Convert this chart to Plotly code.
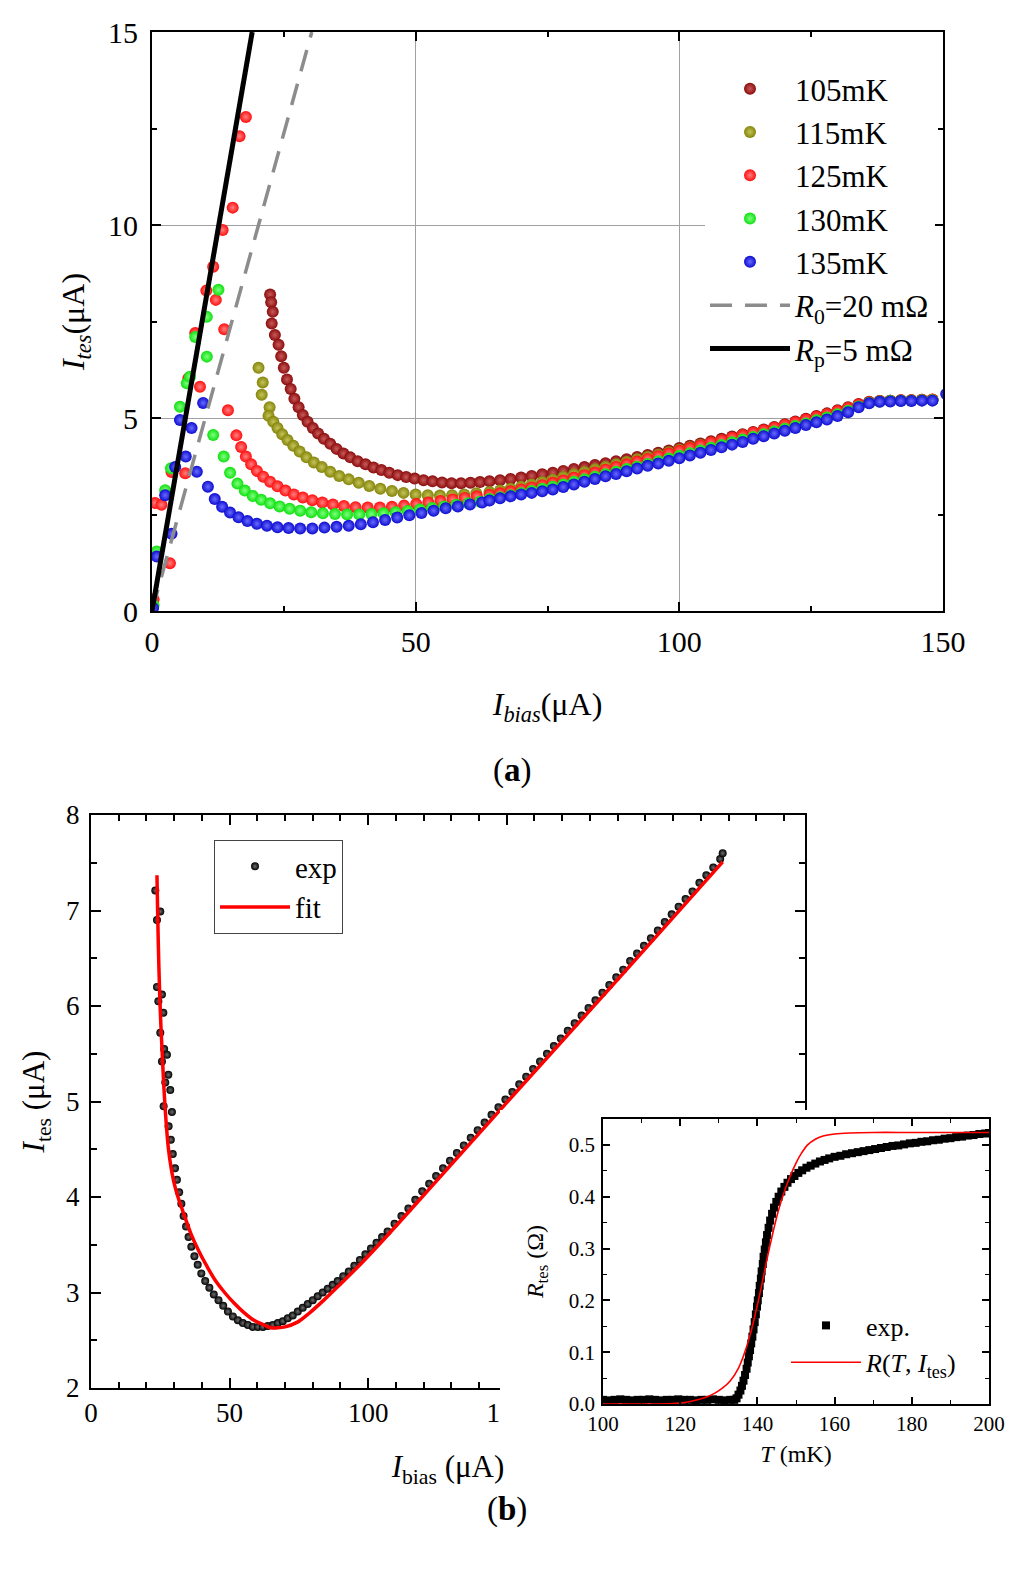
import plotly.graph_objects as go

SERIF = 'Liberation Serif'

# ---------------- (a) I_tes vs I_bias at several bath temperatures ----------------
temps = ['105mK', '115mK', '125mK', '130mK', '135mK']
colors = ['#8b0c0c', '#84840a', '#ff0e0e', '#0ee00e', '#0c0cd0']
glow = ['#c85a5a', '#c4c45a', '#ff8080', '#80ff80', '#6a6aff']

# shared bias grid of the normal-ish branch (uA)
ib_norm = [64, 66, 68, 70, 72, 74, 76, 78, 80, 82, 84, 86, 88, 90, 92, 94, 96, 98, 100, 102,
           104, 106, 108, 110, 112, 114, 116, 118, 120, 122, 124, 126, 128, 130, 132, 134, 136,
           138, 140, 142, 144, 146, 148]

# 105 mK
ib_105_sc, it_105_sc = [], []
ib_105 = [22.4, 22.6, 22.9, 22.7, 23.3, 24.0, 24.5, 25.0, 25.6, 26.3, 27.0, 27.8, 28.6, 29.5, 30.5,
          31.5, 32.6, 33.8, 35.0, 36.3, 37.6, 39.0, 40.5, 42.0, 43.5, 45.0, 46.6, 48.2, 49.8, 51.5,
          53.2, 55.0, 56.8, 58.6, 60.4, 62.2]
it_105 = [8.2, 8.0, 7.75, 7.45, 7.15, 6.9, 6.6, 6.3, 6.0, 5.75, 5.5, 5.28, 5.08, 4.9, 4.74,
          4.6, 4.46, 4.33, 4.2, 4.08, 3.98, 3.88, 3.8, 3.72, 3.65, 3.58, 3.52, 3.47, 3.43, 3.39,
          3.36, 3.33, 3.31, 3.31, 3.32, 3.34]
it_105_n = [3.36, 3.39, 3.42, 3.46, 3.50, 3.54, 3.58, 3.63, 3.68, 3.73, 3.78, 3.83, 3.88, 3.93, 3.99,
            4.04, 4.10, 4.16, 4.22, 4.28, 4.34, 4.40, 4.46, 4.52, 4.58, 4.64, 4.70, 4.77, 4.84, 4.91,
            4.98, 5.05, 5.12, 5.20, 5.28, 5.36, 5.42, 5.44, 5.45, 5.46, 5.46, 5.47, 5.47]

# 115 mK
ib_115_sc, it_115_sc = [], []
ib_115 = [20.2, 21.0, 20.8, 22.3, 22.1, 23.0, 23.8, 24.7, 25.7, 26.8, 28.0, 29.3, 30.7, 32.2, 33.8,
          35.5, 37.3, 39.2, 41.2, 43.3, 45.5, 47.7, 50.0, 52.3, 54.6, 56.9, 59.2, 61.5]
it_115 = [6.3, 5.92, 5.6, 5.28, 5.06, 4.9, 4.74, 4.58, 4.43, 4.28, 4.13, 3.98, 3.85, 3.73, 3.61,
          3.5, 3.41, 3.32, 3.24, 3.17, 3.11, 3.06, 3.02, 3.0, 2.99, 3.0, 3.02, 3.05]
it_115_n = [3.08, 3.12, 3.17, 3.22, 3.28, 3.34, 3.40, 3.47, 3.54, 3.60, 3.67, 3.73, 3.80, 3.86, 3.93,
            3.99, 4.05, 4.11, 4.18, 4.24, 4.30, 4.36, 4.42, 4.48, 4.55, 4.61, 4.67, 4.74, 4.81, 4.88,
            4.95, 5.02, 5.09, 5.17, 5.25, 5.34, 5.41, 5.44, 5.45, 5.45, 5.46, 5.46, 5.47]

# 125 mK
ib_125_sc = [0.3, 0.6, 1.8, 3.4, 3.7, 6.3, 6.9, 8.2, 9.1, 10.3, 11.6, 12.1, 13.4, 15.3, 16.6, 17.8]
it_125_sc = [0.3, 2.8, 2.75, 1.24, 3.6, 3.57, 6.03, 7.2, 5.81, 8.3, 8.92, 8.06, 9.87, 10.45, 12.3, 12.8]
ib_125 = [13.7, 14.4, 16.0, 16.9, 17.8, 18.8, 19.9, 21.1, 22.4, 23.8, 25.3, 26.9, 28.6, 30.4, 32.3,
          34.3, 36.4, 38.6, 40.9, 43.2, 45.5, 47.8, 50.1, 52.4, 54.7, 57.0, 59.3, 61.6]
it_125 = [7.3, 5.2, 4.55, 4.25, 4.0, 3.8, 3.63, 3.48, 3.35, 3.23, 3.12, 3.02, 2.94, 2.87, 2.81,
          2.76, 2.72, 2.69, 2.68, 2.68, 2.7, 2.73, 2.77, 2.81, 2.85, 2.89, 2.93, 2.97]
it_125_n = [3.01, 3.05, 3.10, 3.15, 3.20, 3.26, 3.32, 3.38, 3.45, 3.52, 3.59, 3.66, 3.73, 3.80, 3.87,
            3.94, 4.01, 4.08, 4.15, 4.22, 4.29, 4.36, 4.42, 4.49, 4.55, 4.62, 4.68, 4.75, 4.82, 4.89,
            4.96, 5.03, 5.10, 5.18, 5.26, 5.35, 5.41, 5.44, 5.45, 5.46, 5.46, 5.47, 5.48]

# 130 mK
ib_130_sc = [0.3, 0.9, 2.5, 3.6, 5.3, 6.6, 7.2, 8.2, 10.4, 10.4, 12.6]
it_130_sc = [0.15, 1.54, 3.13, 3.7, 5.29, 5.9, 6.07, 7.1, 6.59, 7.62, 8.32]
ib_130 = [11.6, 13.6, 14.8, 16.2, 17.6, 19.1, 20.7, 22.4, 24.2, 26.1, 28.1, 30.2, 32.4, 34.7, 37.0,
          39.3, 41.6, 43.9, 46.2, 48.5, 50.8, 53.1, 55.4, 57.7, 60.0, 62.2]
it_130 = [4.56, 4.0, 3.58, 3.3, 3.12, 2.98, 2.88, 2.79, 2.71, 2.65, 2.6, 2.56, 2.53, 2.51, 2.5,
          2.5, 2.51, 2.53, 2.56, 2.59, 2.63, 2.67, 2.71, 2.75, 2.79, 2.83]
it_130_n = [2.90, 2.95, 3.00, 3.06, 3.11, 3.17, 3.22, 3.28, 3.35, 3.41, 3.48, 3.54, 3.61, 3.68, 3.74,
            3.81, 3.88, 3.95, 4.02, 4.09, 4.16, 4.23, 4.30, 4.37, 4.44, 4.51, 4.58, 4.65, 4.72, 4.79,
            4.86, 4.94, 5.01, 5.10, 5.19, 5.30, 5.39, 5.43, 5.44, 5.45, 5.45, 5.46, 5.46]

# 135 mK
ib_135_sc = [0.2, 0.9, 2.5, 3.7, 4.4, 5.3, 6.4, 7.5, 8.5, 9.7, 150.6]
it_135_sc = [0.08, 1.41, 3.0, 2.0, 3.73, 4.95, 4.0, 4.74, 3.61, 5.39, 5.62]
ib_135 = [10.6, 11.9, 13.3, 14.8, 16.4, 18.1, 19.9, 21.8, 23.8, 25.9, 28.1, 30.4, 32.7, 35.0, 37.3,
          39.6, 41.9, 44.2, 46.5, 48.8, 51.1, 53.4, 55.7, 58.0, 60.3, 62.6]
it_135 = [3.22, 2.9, 2.7, 2.55, 2.43, 2.33, 2.26, 2.21, 2.17, 2.15, 2.14, 2.14, 2.16, 2.18, 2.21,
          2.25, 2.3, 2.36, 2.42, 2.48, 2.54, 2.6, 2.66, 2.71, 2.76, 2.81]
it_135_n = [2.86, 2.92, 2.97, 3.02, 3.06, 3.10, 3.15, 3.21, 3.28, 3.35, 3.42, 3.49, 3.55, 3.62, 3.69,
            3.76, 3.82, 3.89, 3.96, 4.03, 4.10, 4.17, 4.24, 4.31, 4.38, 4.46, 4.53, 4.60, 4.67, 4.74,
            4.82, 4.89, 4.96, 5.05, 5.15, 5.28, 5.38, 5.42, 5.43, 5.44, 5.44, 5.45, 5.45]

# load lines
r0_x, r0_y = [0, 30.3], [0, 15]
rp_x, rp_y = [0, 19.0], [0, 15]

# ---------------- (b) single I-V curve with fit ----------------
ib_exp = [23.2, 23.8, 25.0, 23.8, 25.6, 24.3, 26.1, 25.0, 26.4, 27.4, 25.6, 27.9, 26.8, 28.6, 26.2,
          29.2, 28.0, 28.8, 29.5, 30.3, 31.0, 31.8, 32.6, 33.4, 34.3, 35.2, 36.2, 37.3, 38.5, 39.8,
          41.2, 42.7, 44.3, 46.0, 47.7, 49.4, 51.2, 53.0, 54.8, 56.6, 58.4, 60.2, 62.0, 63.8, 65.6,
          67.4, 69.2, 71.0, 72.8, 74.6, 76.4, 78.2, 80.0, 81.8, 83.6, 85.4, 87.2, 89.0, 91.0, 93.0,
          95.0, 97.0, 99.0, 101.0, 103.0, 105.0, 107.0, 109.5, 112.0, 114.5, 117.0, 119.5, 122.0,
          124.5, 127.0, 129.5, 132.0, 134.5, 137.0, 139.5, 142.0, 144.5, 147.0, 149.5, 152.0, 154.5,
          157.0, 159.5, 162.0, 164.5, 167.0, 169.5, 172.0, 174.5, 177.0, 179.5, 182.0, 184.5, 187.0,
          189.5, 192.0, 194.5, 197.0, 199.5, 202.0, 204.5, 207.0, 209.5, 212.0, 214.5, 217.0, 219.5,
          222.0, 224.5, 227.0, 227.9]
it_exp = [7.21, 6.9, 6.99, 6.2, 6.12, 6.05, 5.93, 5.72, 5.55, 5.49, 5.42, 5.28, 5.2, 5.12, 4.95,
          4.89, 4.74, 4.6, 4.45, 4.3, 4.18, 4.05, 3.93, 3.8, 3.69, 3.58, 3.48, 3.38, 3.29, 3.2,
          3.12, 3.05, 2.98, 2.92, 2.86, 2.8, 2.75, 2.71, 2.68, 2.66, 2.64, 2.64, 2.64, 2.65, 2.66,
          2.68, 2.7, 2.73, 2.76, 2.8, 2.84, 2.88, 2.92, 2.96, 3.0, 3.04, 3.08, 3.12, 3.17, 3.22,
          3.28, 3.34, 3.4, 3.46, 3.52, 3.58, 3.64, 3.72, 3.8, 3.88, 3.97, 4.06, 4.14,
          4.22, 4.3, 4.38, 4.46, 4.54, 4.62, 4.7, 4.78, 4.86, 4.94, 5.02, 5.1, 5.18,
          5.26, 5.34, 5.42, 5.5, 5.58, 5.66, 5.74, 5.82, 5.9, 5.98, 6.06, 6.14, 6.22,
          6.3, 6.38, 6.47, 6.55, 6.63, 6.71, 6.79, 6.88, 6.96, 7.04, 7.12, 7.2, 7.29,
          7.37, 7.45, 7.54, 7.6]
ib_fit = [23.8, 24.1, 24.5, 25.0, 25.7, 26.6, 28.0, 29.8, 31.6, 33.4, 36.0, 38.8, 41.9, 45.0, 48.2,
          51.6, 55.2, 58.8, 62.4, 65.0, 67.2, 70.0, 74.5, 79.0, 84.0, 89.0, 98.0, 107.0, 125.0, 145.7,
          169.9, 200.0, 227.9]
it_fit = [7.37, 6.9, 6.4, 5.95, 5.5, 5.0, 4.49, 4.17, 3.98, 3.83, 3.62, 3.44, 3.27, 3.12, 3.0,
          2.89, 2.79, 2.71, 2.66, 2.63, 2.63, 2.64, 2.69, 2.79, 2.92, 3.06, 3.32, 3.6, 4.18, 4.85,
          5.63, 6.6, 7.51]
ib_ticks = [0, 50, 100, 150]

# inset: R_tes vs T
t_exp = [100, 101.5, 103, 104.5, 106, 107.5, 109, 110.5, 112, 113.5, 115, 116.5, 118, 119.5, 121,
         122.5, 124, 125.5, 127, 128.5, 130, 131.5, 133, 134,
         134.6, 135.1, 135.6, 136.0, 136.4, 136.8, 137.2, 137.5, 137.8, 138.1, 138.4, 138.7, 139.0,
         139.3, 139.6, 139.9, 140.1, 140.4, 140.6, 140.9, 141.1, 141.4, 141.6, 141.9, 142.2, 142.5,
         142.9, 143.3, 143.8, 144.3, 144.9, 145.5, 146.2, 147.0, 147.8, 148.7, 149.6, 150.6, 151.6,
         152.7, 153.8, 155, 156.2, 157.4, 158.6, 160, 161.5, 163, 164.5, 166, 167.5, 169, 170.5,
         172, 173.5, 175, 176.5, 178, 179.5, 181, 182.5, 184, 185.5, 187, 188.5, 190, 191.5, 193,
         194.5, 196, 197.5, 199, 200]
r_exp = [0.008, 0.007, 0.008, 0.009, 0.008, 0.007, 0.008, 0.008, 0.009, 0.008, 0.007, 0.008, 0.008,
         0.009, 0.008, 0.008, 0.007, 0.008, 0.008, 0.009, 0.008, 0.007, 0.008, 0.008,
         0.011, 0.018, 0.026, 0.035, 0.045, 0.056, 0.068, 0.08, 0.092, 0.104, 0.117, 0.13, 0.144,
         0.158, 0.173, 0.188, 0.2, 0.214, 0.228, 0.242, 0.256, 0.27, 0.284, 0.298, 0.312, 0.326,
         0.34, 0.354, 0.367, 0.379, 0.39, 0.4, 0.41, 0.419, 0.427, 0.434, 0.44, 0.446, 0.451,
         0.456, 0.46, 0.464, 0.468, 0.471, 0.474, 0.477, 0.479, 0.482, 0.484, 0.486, 0.488, 0.49,
         0.492, 0.494, 0.496, 0.498, 0.499, 0.501, 0.503, 0.504, 0.506, 0.507, 0.509, 0.51, 0.512,
         0.513, 0.515, 0.516, 0.518, 0.519, 0.521, 0.522, 0.523]
t_fit = [100, 110, 118, 122, 125, 127, 129, 131, 133, 135, 136.5, 138, 139.5, 141, 142.5, 144, 145.5,
         147, 148.5, 150, 151.5, 153, 155, 157, 160, 164, 170, 180, 190, 200]
r_fit = [0.0, 0.0, 0.001, 0.004, 0.009, 0.014, 0.021, 0.031, 0.045, 0.068, 0.095, 0.13, 0.175, 0.225,
         0.28, 0.33, 0.375, 0.41, 0.44, 0.465, 0.485, 0.5, 0.511, 0.517, 0.521, 0.523, 0.524, 0.524,
         0.524, 0.524]

fig = go.Figure()

series = [
    (ib_105_sc, it_105_sc, ib_105, it_105, it_105_n),
    (ib_115_sc, it_115_sc, ib_115, it_115, it_115_n),
    (ib_125_sc, it_125_sc, ib_125, it_125, it_125_n),
    (ib_130_sc, it_130_sc, ib_130, it_130, it_130_n),
    (ib_135_sc, it_135_sc, ib_135, it_135, it_135_n),
]
for name, col, gl, (xs, ys, xt, yt, yn) in zip(temps, colors, glow, series):
    fig.add_trace(go.Scatter(
        x=xs + xt + ib_norm, y=ys + yt + yn, mode='markers', name=name,
        marker=dict(size=12, color=col, line_width=0,
                    gradient=dict(type='radial', color=gl)),
        legend='legend'))

fig.add_trace(go.Scatter(x=r0_x, y=r0_y, mode='lines', name='<i>R</i><sub>0</sub>=20 mΩ',
                         line=dict(color='#8c8c8c', width=3.5, dash='22px,13px'), legend='legend'))
fig.add_trace(go.Scatter(x=rp_x, y=rp_y, mode='lines', name='<i>R</i><sub>p</sub>=5 mΩ',
                         line=dict(color='black', width=5), legend='legend'))

fig.add_trace(go.Scatter(x=ib_exp, y=it_exp, mode='markers', name='exp',
                         marker=dict(size=8, color='black', line_width=0,
                                     gradient=dict(type='radial', color='#6e6e6e')),
                         xaxis='x2', yaxis='y2', legend='legend2'))
fig.add_trace(go.Scatter(x=ib_fit, y=it_fit, mode='lines', name='fit', line_shape='spline',
                         line=dict(color='#ff0000', width=3.5),
                         xaxis='x2', yaxis='y2', legend='legend2'))

# empty trace so the white cover subplot exists
fig.add_trace(go.Scatter(x=[], y=[], xaxis='x3', yaxis='y3', showlegend=False, hoverinfo='skip'))

fig.add_trace(go.Scatter(x=t_exp, y=r_exp, mode='markers', name='exp.',
                         marker=dict(symbol='square', size=8, color='black', line_width=0),
                         xaxis='x4', yaxis='y4', legend='legend3'))
fig.add_trace(go.Scatter(x=t_fit, y=r_fit, mode='lines', name='<i>R</i>(<i>T</i>, <i>I</i><sub>tes</sub>)',
                         line_shape='spline', line=dict(color='#ff0000', width=1.6),
                         xaxis='x4', yaxis='y4', legend='legend3'))


def ax(domain, rng, dtick, mdtick, size, tlen=9, mlen=5, lw=2, grid=False, **kw):
    return dict(domain=domain, range=rng, dtick=dtick, tick0=0, ticks='inside', ticklen=tlen,
                tickwidth=lw, tickcolor='black', showline=True, linewidth=lw, linecolor='black',
                mirror='ticks', zeroline=False, showgrid=grid, gridcolor='#a0a0a0', gridwidth=1,
                minor=dict(dtick=mdtick, tick0=0, ticks='inside', ticklen=mlen, tickwidth=lw * 0.8,
                           tickcolor='black', showgrid=False),
                tickfont=dict(family=SERIF, size=size, color='black'), **kw)


W, H = 1024, 1574
px = lambda a, b: [a / W, b / W]
py = lambda top, bot: [1 - bot / H, 1 - top / H]

xaxis2 = ax(px(91, 805), [0, 257.6], 50, 10, 27, tlen=10, mlen=6, anchor='y2', ticklabelstandoff=0,
            title=dict(text='<i>I</i><sub>bias</sub> (μA)', font=dict(size=31), standoff=28))
# only the labels left of the inset are printed
xaxis2.update(tickmode='array', tickvals=ib_ticks)

fig.update_layout(
    width=W, height=H, margin=dict(l=0, r=0, t=0, b=0, autoexpand=False),
    paper_bgcolor='white', plot_bgcolor='white',
    font=dict(family=SERIF, color='black'),
    xaxis=ax(px(152, 943), [0, 150], 50, 25, 30, grid=True, anchor='y', ticklabelstandoff=3,
             title=dict(text='<i>I</i><sub><i>bias</i></sub>(μA)', font=dict(size=32), standoff=36)),
    yaxis=ax(py(32, 611), [0, 15], 5, 2.5, 30, grid=True, anchor='x', ticklabelstandoff=6,
             title=dict(text='<i>I</i><sub><i>tes</i></sub>(μA)', font=dict(size=32), standoff=14)),
    xaxis2=xaxis2,
    yaxis2=ax(py(815, 1388), [2, 8], 1, 0.5, 27, tlen=10, mlen=6, anchor='x2', ticklabelstandoff=4,
              title=dict(text='<i>I</i><sub>tes</sub> (μA)', font=dict(size=31), standoff=12)),
    xaxis3=dict(domain=px(500, 1010), range=[0, 1], visible=False, anchor='y3', fixedrange=True),
    yaxis3=dict(domain=py(1110, 1432), range=[0, 1], visible=False, anchor='x3', fixedrange=True),
    xaxis4=ax(px(603, 989), [100, 200], 20, 10, 21, tlen=7, mlen=4, lw=1.5, anchor='y4',
              ticklabelstandoff=0,
              title=dict(text='<i>T</i> (mK)', font=dict(size=24), standoff=10)),
    yaxis4=ax(py(1119, 1404), [0, 0.55], 0.1, 0.05, 21, tlen=7, mlen=4, lw=1.5, anchor='x4',
              ticklabelstandoff=2, tickformat='.1f',
              title=dict(text='<i>R</i><sub>tes</sub> (Ω)', font=dict(size=24), standoff=18)),
    legend=dict(x=705 / W, y=1 - 62 / H, xanchor='left', yanchor='top', bgcolor='white',
                font=dict(family=SERIF, size=31), itemwidth=80, tracegroupgap=0),
    legend2=dict(x=214 / W, y=1 - 840 / H, xanchor='left', yanchor='top', bgcolor='white',
                 bordercolor='#444', borderwidth=1, font=dict(family=SERIF, size=29), itemwidth=70),
    legend3=dict(x=786 / W, y=1 - 1302 / H, xanchor='left', yanchor='top', bgcolor='rgba(0,0,0,0)',
                 font=dict(family=SERIF, size=26), itemwidth=70),
    shapes=[dict(type='rect', xref='x3', yref='y3', x0=0, x1=1, y0=0, y1=1,
                 fillcolor='white', line_width=0, layer='below')],
    annotations=[
        dict(text='(<b>a</b>)', x=512 / W, y=1 - 770 / H, xref='paper', yref='paper',
             showarrow=False, font=dict(family=SERIF, size=33)),
        dict(text='(<b>b</b>)', x=507 / W, y=1 - 1530 / H, xref='paper', yref='paper',
             showarrow=False, font=dict(family=SERIF, size=33)),
    ],
)

# drop the browser's default 8px body margin so the figure sits at the page origin
fig.write_html('out.html', config={'displayModeBar': False},
               post_script="document.body.style.margin='0px';")
